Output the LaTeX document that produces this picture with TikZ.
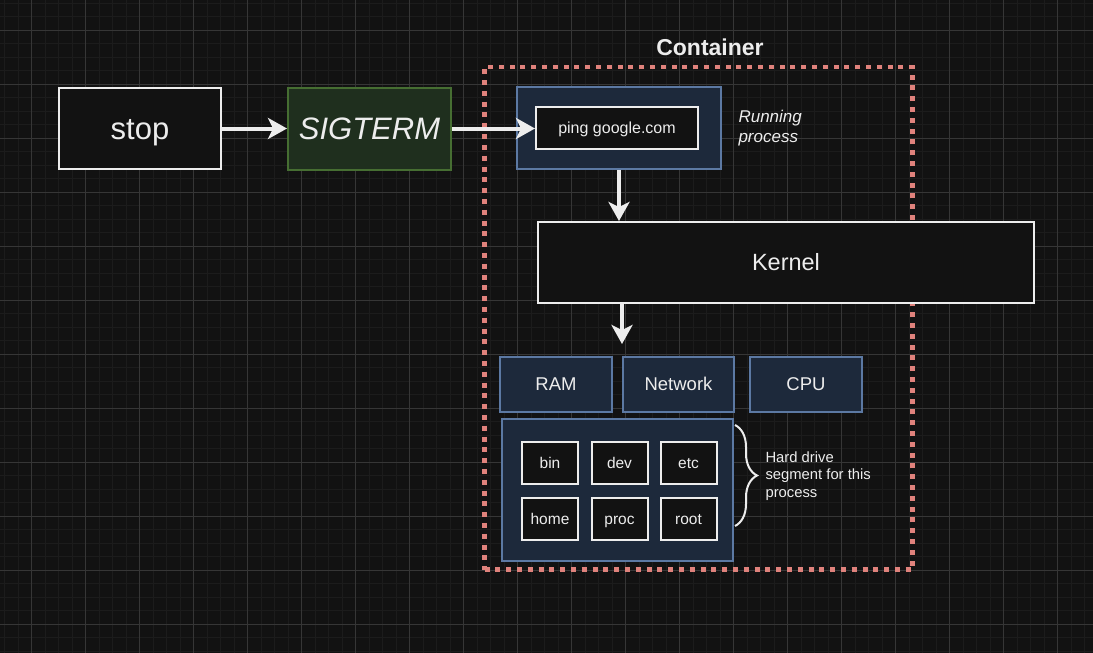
\documentclass[tikz,border=0pt]{standalone}
\usepackage{fontspec}
\setmainfont{Liberation Sans}
\usepackage{xcolor}
\usepackage{tikz}
\usetikzlibrary{positioning,arrows.meta,decorations.pathreplacing}

\definecolor{bgcol}{HTML}{121212}
\definecolor{minorgrid}{HTML}{1C1C1C}
\definecolor{majorgrid}{HTML}{363636}
\definecolor{inkcol}{HTML}{EDEDED}
\definecolor{boxcol}{HTML}{121212}
\definecolor{sigfill}{HTML}{1F2F1E}
\definecolor{sigline}{HTML}{466E32}
\definecolor{bluefill}{HTML}{1D293B}
\definecolor{blueline}{HTML}{5C79A3}
\definecolor{dotcol}{HTML}{E0827C}

\newcommand{\pxfont}[2]{\fontsize{#1pt}{#2pt}\selectfont}

\begin{document}
\begin{tikzpicture}[
    x=1pt, y=-1pt,
    text=inkcol,
    >={Stealth[length=19pt,width=21pt,inset=5pt]},
    fsz/.style={font=\pxfont{#1}{#1}, text height=\dimexpr #1pt*9/10\relax, text depth=\dimexpr #1pt*2/10\relax},
    plainbox/.style={draw=inkcol, line width=2pt, fill=boxcol, inner sep=0pt},
    sigbox/.style={draw=sigline, line width=2pt, fill=sigfill, inner sep=0pt},
    bluebox/.style={draw=blueline, line width=2pt, fill=bluefill, inner sep=0pt, minimum width=112pt, minimum height=55pt, fsz=18.5},
    folder/.style={plainbox, minimum width=56pt, minimum height=42pt, fsz=15.5},
    flow/.style={->, draw=inkcol, line width=4pt}
]

% background and grid
\useasboundingbox (0,0) rectangle (1093,653);
\fill[bgcol] (0,0) rectangle (1093,653);
\begin{scope}
\clip (0,0) rectangle (1093,653);
\draw[minorgrid, line width=1pt, shift={(4.7,3.3)}, step=13.5pt] (-20,680) grid (1110,-20);
\draw[majorgrid, line width=1pt, shift={(31.7,30.3)}, step=54pt] (-60,680) grid (1110,-60);
\end{scope}

% container frame
\node[draw=dotcol, line width=4.5pt, dash pattern=on 5pt off 5.8pt, minimum width=428pt, minimum height=502.5pt] (container) at (698.5,318.25) {};
\node[font=\pxfont{23}{27}\bfseries] (ctitle) at (710,47) {Container};

% command and signal
\node[plainbox, minimum width=162pt, minimum height=81pt, fsz=31] (stop) at (140,128.5) {stop};
\node[sigbox, minimum width=163pt, minimum height=82pt, fsz=31] (sigterm) at (369.5,128.5) {\itshape SIGTERM};

% running process
\node[bluebox, minimum width=204pt, minimum height=82pt] (runbox) at (619,128) {};
\node[plainbox, minimum width=162pt, minimum height=42pt, fsz=16] (ping) at (617,128) {ping google.com};
\node[anchor=west, align=left, font=\pxfont{17}{20}\itshape] (runlabel) at (735,128) {Running\\process};

% kernel
\node[plainbox, minimum width=496pt, minimum height=81pt, fsz=23.5] (kernel) at (786,262.5) {Kernel};

% resources
\node[bluebox] (ram) at (556,384.5) {RAM};
\node[bluebox, minimum width=111pt, right=9pt of ram] (net) {Network};
\node[bluebox, right=14pt of net] (cpu) {CPU};

% hard drive segment
\node[bluebox, minimum width=231pt, minimum height=142pt] (hdd) at (617.5,490) {};
\node[folder] (bin) at (550,463) {bin};
\node[folder, right=11.5pt of bin] (dev) {dev};
\node[folder, right=11pt of dev] (etc) {etc};
\node[folder, below=12pt of bin] (home) {home};
\node[folder, below=12pt of dev] (proc) {proc};
\node[folder, below=12pt of etc] (root) {root};

\coordinate (bracetop) at (735,425);
\coordinate (bracebot) at (735,526);
\draw[inkcol, line width=2pt, decorate, decoration={brace, amplitude=22pt}] (bracetop) -- (bracebot);
\node[anchor=west, align=left, font=\pxfont{14.8}{17.7}] (hddlabel) at (762,476) {Hard drive\\segment for this\\process};

% arrows
\draw[flow] (stop.east) -- (sigterm.west);
\draw[flow] (sigterm.east) -- (sigterm.east -| ping.west);
\draw[flow] (runbox.south) -- (runbox.south |- kernel.north);
\coordinate (kerneltip) at (622,344);
\draw[flow] (kernel.south -| kerneltip) -- (kerneltip);

\end{tikzpicture}
\end{document}
